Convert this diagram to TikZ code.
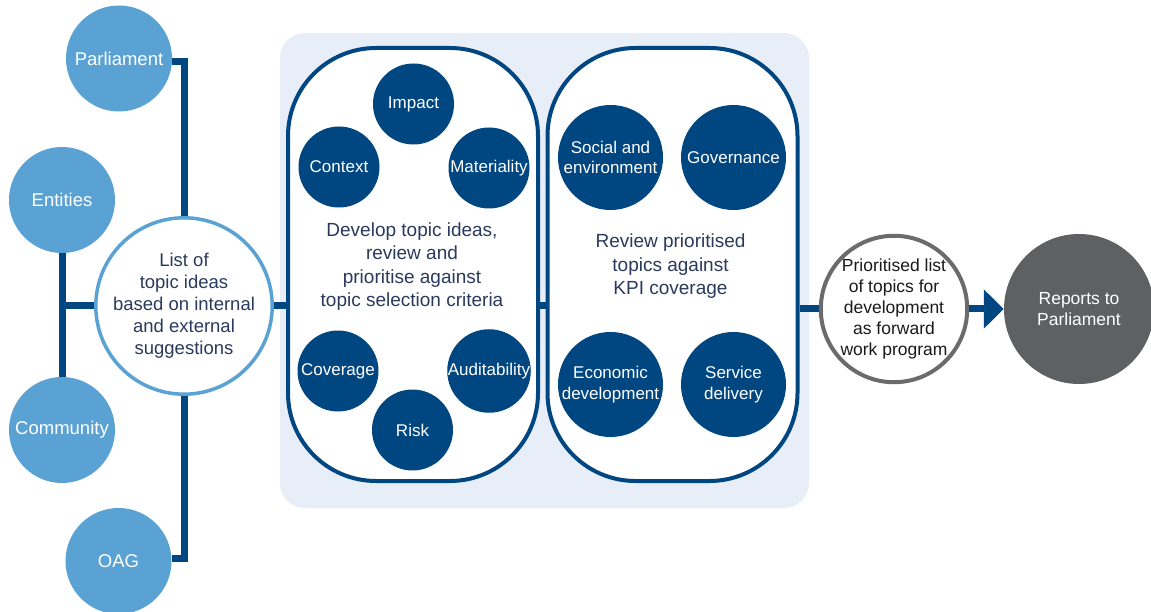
\documentclass[tikz,border=0pt]{standalone}
\usepackage{fontspec}
\setmainfont{Liberation Sans}
\usetikzlibrary{arrows.meta}
\definecolor{navy}{HTML}{004680}
\definecolor{lblue}{HTML}{5BA2D4}
\definecolor{panelbg}{HTML}{E8EEF8}
\definecolor{txtnavy}{HTML}{2A3A5C}
\definecolor{greyc}{HTML}{5F6062}
\definecolor{greyb}{HTML}{6B6B6B}
\definecolor{txtdark}{HTML}{1A1A1A}
\begin{document}
\begin{tikzpicture}[x=1pt,y=-1pt,
  src/.style={circle, fill=lblue, minimum size=106pt, inner sep=0pt, text=white,
    font=\fontsize{18.5}{22}\selectfont},
  crit/.style={circle, fill=navy, minimum size=81pt, inner sep=0pt, text=white,
    font=\fontsize{17}{20}\selectfont, align=center},
  kpi/.style={circle, fill=navy, minimum size=105pt, inner sep=0pt, text=white,
    font=\fontsize{17}{20.5}\selectfont, align=center},
  conn/.style={draw=navy, line width=7pt},
  pillbox/.style={draw=navy, line width=4pt, fill=white, rounded corners=88pt,
    minimum width=250pt, minimum height=433pt, inner sep=0pt},
  ptext/.style={text=txtnavy, align=center, font=\fontsize{19}{23.5}\selectfont},
]
\useasboundingbox (0,0) rectangle (1151,612);
% background panel
\fill[panelbg, rounded corners=25pt] (280,33) rectangle (809,508);

% source circles
\node[src] (parl) at (119,58.5) {Parliament};
\node[src] (ent) at (62,200) {Entities};
\node[src] (com) at (62,430) {Community};
\node[src] (oag) at (118.5,561) {OAG};

% list circle
\node[circle, draw=lblue, line width=3.5pt, fill=white, minimum size=172pt, inner sep=0pt,
  text=txtnavy, align=center, font=\fontsize{18.5}{22}\selectfont] (list) at (184,306)
  {List of\\topic ideas\\based on internal\\and external\\suggestions};

% pills
\node[pillbox] (p1) at (413,264.5) {};
\node[pillbox] (p2) at (672.5,264.5) {};

\node[ptext] (t1) at (412,266.5) {Develop topic ideas,\\review and\\prioritise against\\topic selection criteria};
\node[ptext] (t2) at (670.5,266.5) {Review prioritised\\topics against\\KPI coverage};

% criteria circles
\node[crit] (impact) at (413.5,104) {Impact};
\node[crit] (context) at (339,167) {Context};
\node[crit] (mat) at (489,168) {Materiality};
\node[crit] (cov) at (338,371) {Coverage};
\node[crit] (aud) at (489,371) {Auditability};
\node[crit] (risk) at (412.5,430) {Risk};

% KPI circles
\node[kpi] (soc) at (610.5,157.5) {Social and\\environment};
\node[kpi] (gov) at (733.5,157.5) {Governance};
\node[kpi] (eco) at (610.5,384.5) {Economic\\development};
\node[kpi] (serv) at (733.5,384.5) {Service\\delivery};

% output circles
\node[circle, draw=greyb, line width=4pt, fill=white, minimum size=146pt, inner sep=0pt,
  text=txtdark, align=center, font=\fontsize{17.5}{21}\selectfont] (pri) at (894,309)
  {Prioritised list\\of topics for\\development\\as forward\\work program};
\node[circle, fill=greyc, minimum size=150pt, inner sep=0pt, text=white, align=center,
  font=\fontsize{17.5}{21}\selectfont] (rep) at (1079,309) {Reports to\\Parliament};

% connectors
\draw[conn] ([yshift=-3pt]parl.east) -| (list.north);
\draw[conn] ([yshift=3pt]oag.east) -| (list.south);
\draw[conn] (ent.south) -- (com.north);
\draw[conn] (ent.south |- list.west) -- (list.west);
\draw[conn] (list.east) -- (list.east -| p1.west);
\draw[conn] (p1.east |- list.east) -- (p2.west |- list.east);
\draw[conn] (p2.east |- pri.west) -- (pri.west);
\draw[navy, line width=7pt, -{Triangle[length=20pt,width=38pt]}] (pri.east) -- (rep.west);
\end{tikzpicture}
\end{document}
